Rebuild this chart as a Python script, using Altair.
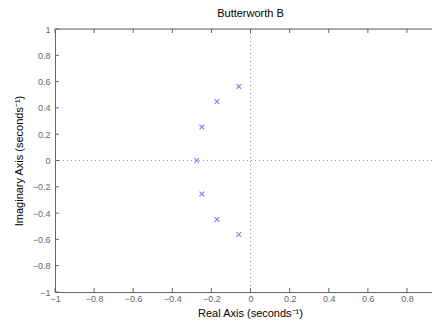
import altair as alt
import pandas as pd

# Pole locations
pole_re = [-0.060, -0.172, -0.249, -0.275, -0.249, -0.172, -0.060]
pole_im = [0.563, 0.449, 0.254, 0.0, -0.254, -0.449, -0.563]

x_ticks = [-1, -0.8, -0.6, -0.4, -0.2, 0, 0.2, 0.4, 0.6, 0.8]
y_ticks = [-1, -0.8, -0.6, -0.4, -0.2, 0, 0.2, 0.4, 0.6, 0.8, 1]

W, H = 377, 263
X_DOMAIN = [-1, 0.928]
Y_DOMAIN = [-1, 1]
GREY = "#666666"
FONT = "Liberation Sans"

poles = pd.DataFrame({"re": pole_re, "im": pole_im})
xt = pd.DataFrame({"v": x_ticks})
yt = pd.DataFrame({"v": y_ticks})
zero = pd.DataFrame({"v": [0]})

xs = alt.Scale(domain=X_DOMAIN, nice=False, zero=False)
ys = alt.Scale(domain=Y_DOMAIN, nice=False, zero=False)

xaxis = alt.Axis(values=x_ticks, ticks=False, grid=False, domainColor=GREY,
                 labelColor=GREY, labelFontSize=9, labelFont=FONT, labelPadding=2,
                 labelFlush=False, labelOverlap=False,
                 title="Real Axis (seconds⁻¹)", titleFont=FONT, titleFontSize=11,
                 titleFontWeight="normal", titleColor="#000000", titlePadding=4,
                 titleX=195, format="~g")
yaxis = alt.Axis(values=y_ticks, ticks=False, grid=False, domainColor=GREY,
                 labelColor=GREY, labelFontSize=9, labelFont=FONT, labelPadding=5,
                 labelFlush=False, labelOverlap=False,
                 title="Imaginary Axis (seconds⁻¹)", titleFont=FONT, titleFontSize=11,
                 titleFontWeight="normal", titleColor="#000000", titlePadding=8,
                 format="~g")

X = lambda f: alt.X(f, scale=xs, axis=xaxis, title="Real Axis (seconds⁻¹)")
Y = lambda f: alt.Y(f, scale=ys, axis=yaxis, title="Imaginary Axis (seconds⁻¹)")

pts = alt.Chart(poles).mark_point(
    shape="M-1,-1L1,1M1,-1L-1,1", size=22, color="#4f4fff", strokeWidth=1.2, filled=False
).encode(x=X("re:Q"), y=Y("im:Q"))

vline = alt.Chart(zero).mark_rule(color="#999999", strokeDash=[1, 3], strokeWidth=1).encode(
    x=X("v:Q"))
hline = alt.Chart(zero).mark_rule(color="#999999", strokeDash=[1, 3], strokeWidth=1).encode(
    y=Y("v:Q"))

top_border = alt.Chart(zero).mark_rule(color=GREY).encode(
    x=alt.value(0), x2=alt.value(W), y=alt.value(0))

xt_bottom = alt.Chart(xt).mark_rule(color=GREY).encode(
    x=X("v:Q"), y=alt.value(H), y2=alt.value(H - 4))
xt_top = alt.Chart(xt).mark_rule(color=GREY).encode(
    x=X("v:Q"), y=alt.value(0), y2=alt.value(4))
yt_left = alt.Chart(yt).mark_rule(color=GREY).encode(
    y=Y("v:Q"), x=alt.value(0), x2=alt.value(4))

chart = alt.layer(pts, vline, hline, top_border, xt_bottom, xt_top, yt_left).properties(
    width=W, height=H,
    title=alt.TitleParams("Butterworth B", font=FONT, fontSize=11, fontWeight="normal",
                          color="#000000", anchor="middle", dx=7, offset=6),
    autosize=alt.AutoSizeParams(type="none"),
    padding={"left": 47, "top": 21, "right": 0, "bottom": 30},
).configure_view(stroke=None).configure(background="white")

chart.save("out.html", embed_options={"renderer": "svg", "actions": False})
